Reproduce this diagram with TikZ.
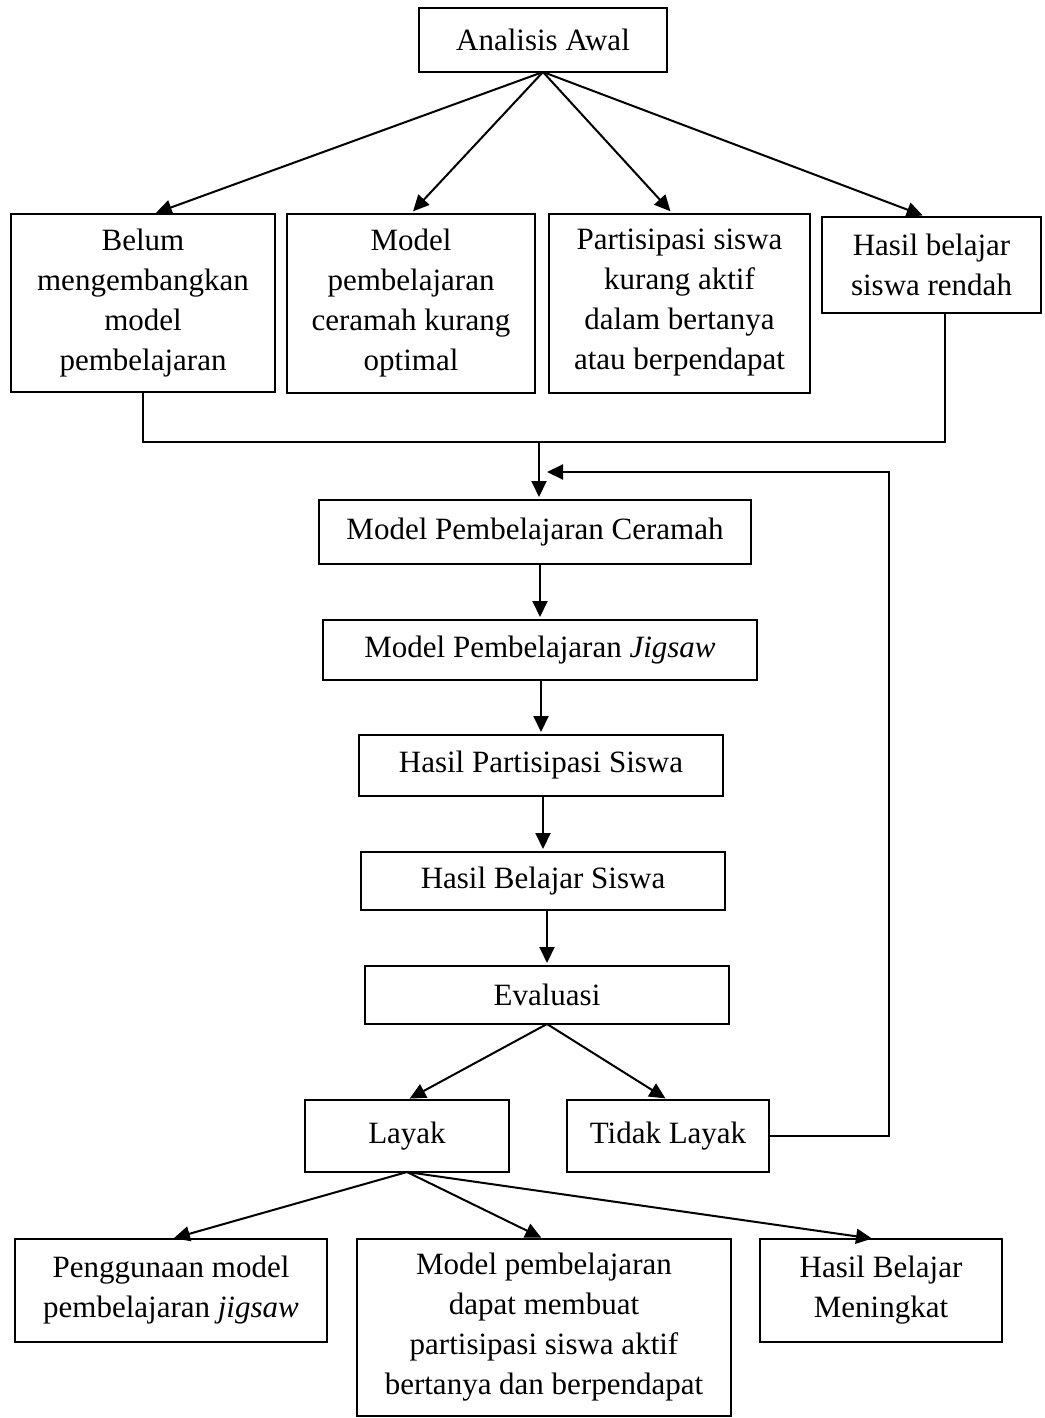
\documentclass[tikz,border=0pt]{standalone}
\usepackage{fontspec}
\setmainfont{Liberation Serif}
\usetikzlibrary{arrows.meta, positioning, calc}

\begin{document}
\begin{tikzpicture}[x=1pt, y=-1pt,
  box/.style={rectangle, draw, line width=2pt, align=center, inner sep=0pt, outer sep=0pt,
    font=\fontsize{31}{40}\selectfont},
  link/.style={line width=2pt, -{Triangle[length=16pt, width=15pt]}, shorten >=3pt},
  wire/.style={line width=2pt},
]
  \useasboundingbox (0,0) rectangle (1044,1418);

  \node[box, minimum width=248pt, minimum height=64pt] (awal) at (543,40) {Analisis Awal};

  \node[box, minimum width=264pt, minimum height=178pt] (belum) at (143,303)
    {Belum\\ mengembangkan\\ model\\ pembelajaran};
  \node[box, minimum width=248pt, minimum height=179pt, right=12pt of belum] (kurang)
    {Model\\ pembelajaran\\ ceramah kurang\\ optimal};
  \node[box, minimum width=261pt, minimum height=179pt, right=14pt of kurang] (pasif)
    {Partisipasi siswa\\ kurang aktif\\ dalam bertanya\\ atau berpendapat};
  \node[box, minimum width=219pt, minimum height=96pt, right=12pt of pasif.north east,
    anchor=north west, yshift=-3pt] (rendah) {Hasil belajar\\ siswa rendah};

  \node[box, minimum width=432pt, minimum height=64pt] (ceramah) at (535,532)
    {Model Pembelajaran Ceramah};
  \node[box, minimum width=434pt, minimum height=60pt, below=56pt of ceramah, xshift=5pt] (jigsaw)
    {Model Pembelajaran \textit{Jigsaw}};
  \node[box, minimum width=364pt, minimum height=61pt, below=55pt of jigsaw, xshift=1pt] (partisipasi)
    {Hasil Partisipasi Siswa};
  \node[box, minimum width=364pt, minimum height=58pt, below=56pt of partisipasi, xshift=2pt] (belajar)
    {Hasil Belajar Siswa};
  \node[box, minimum width=364pt, minimum height=58pt, below=56pt of belajar, xshift=4pt] (evaluasi)
    {Evaluasi};

  \node[box, minimum width=204pt, minimum height=72pt] (layak) at (407,1136) {Layak};
  \node[box, minimum width=202pt, minimum height=72pt, right=58pt of layak] (tidak) {Tidak Layak};

  \node[box, minimum width=312pt, minimum height=103pt] (guna) at (171,1290.5)
    {Penggunaan model\\ pembelajaran \textit{jigsaw}};
  \node[box, minimum width=374pt, minimum height=177pt, right=30pt of guna.north east,
    anchor=north west] (aktif)
    {Model pembelajaran\\ dapat membuat\\ partisipasi siswa aktif\\ bertanya dan berpendapat};
  \node[box, minimum width=242pt, minimum height=103pt, right=29pt of aktif.north east,
    anchor=north west] (meningkat) {Hasil Belajar\\ Meningkat};

  % analisis awal ke masalah
  \draw[link] (awal.south) -- ([xshift=10pt]belum.north);
  \draw[link] (awal.south) -- (kurang.north);
  \draw[link] (awal.south) -- ([xshift=-7pt]pasif.north);
  \draw[link] (awal.south) -- ([xshift=-6pt]rendah.north);

  % gabungan masalah
  \coordinate (gabung) at (539,442);
  \draw[wire] (belum.south) |- (gabung) -| ([xshift=13.5pt]rendah.south);
  \draw[link] (gabung) -- (gabung |- ceramah.north);

  % alur utama
  \draw[link] (jigsaw.north |- ceramah.south) -- (jigsaw.north);
  \draw[link] (partisipasi.north |- jigsaw.south) -- (partisipasi.north);
  \draw[link] (belajar.north |- partisipasi.south) -- (belajar.north);
  \draw[link] (evaluasi.north |- belajar.south) -- (evaluasi.north);

  \draw[link] (evaluasi.south) -- (layak.north);
  \draw[link] (evaluasi.south) -- (tidak.north);

  % umpan balik
  \coordinate (sudut) at (889,472);
  \coordinate (balik) at (547,472);
  \draw[link, shorten >=0pt] (tidak.east) -| (sudut) -- (balik);

  \draw[link] (layak.south) -- (guna.north);
  \draw[link] (layak.south) -- (aktif.north);
  \draw[link] (layak.south) -- ([xshift=-6pt]meningkat.north);
\end{tikzpicture}
\end{document}
